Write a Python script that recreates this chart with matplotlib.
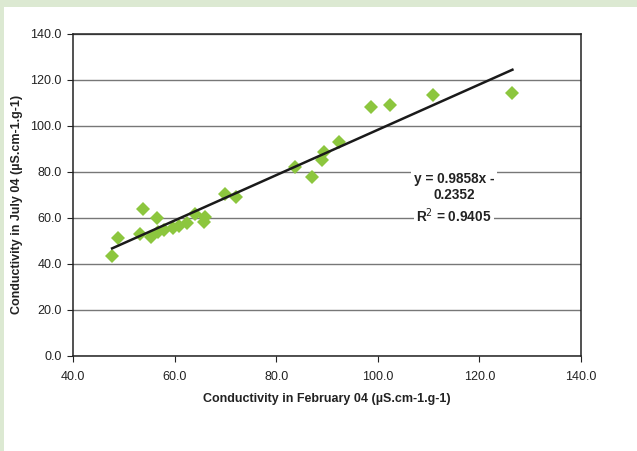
import matplotlib
matplotlib.use("Agg")
import matplotlib.pyplot as plt
from matplotlib.patches import Rectangle
import numpy as np

feb = [47.7, 48.9, 53.2, 53.7, 55.3, 56.5, 56.8, 57.9, 59.7, 60.8, 62.4, 64.1,
       65.8, 66.0, 69.9, 72.0, 83.7, 87.0, 89.1, 89.4, 92.4, 98.6, 102.4, 110.9, 126.5]
jul = [43.5, 51.2, 52.9, 63.9, 51.9, 59.9, 54.0, 54.9, 55.7, 56.5, 57.7, 61.9,
       58.4, 60.6, 70.6, 69.3, 82.3, 78.0, 85.2, 88.8, 93.2, 108.4, 109.1, 113.5, 114.2]
slope = 0.9858
intercept = -0.2352
r2 = 0.9405
xticks = [40, 60, 80, 100, 120, 140]
yticks = [0, 20, 40, 60, 80, 100, 120, 140]

plt.rcParams['font.family'] = ['Liberation Sans', 'DejaVu Sans']

fig = plt.figure(figsize=(6.37, 4.51), dpi=100)
fig.patch.set_facecolor('#dce9d2')
fig.patches.append(Rectangle((4/637, 0), 1, 1 - 7/451, transform=fig.transFigure,
                             facecolor='white', edgecolor='none', zorder=-5))

ax = fig.add_axes([73/637, 1 - 356/451, (581 - 73)/637, (356 - 34)/451])
ax.set_zorder(2)
ax.set_xlim(40, 140)
ax.set_ylim(0, 140)
ax.set_xticks(xticks)
ax.set_yticks(yticks)
ax.set_xticklabels([f"{v:.1f}" for v in xticks])
ax.set_yticklabels([f"{v:.1f}" for v in yticks])
ax.tick_params(axis='both', labelsize=9, colors='#222222', length=4, width=0.8, direction='out')
ax.tick_params(axis='x', pad=7)
ax.tick_params(axis='y', pad=4)
ax.grid(axis='y', color='#777777', linewidth=1.0)
ax.set_axisbelow(True)
for s in ax.spines.values():
    s.set_color('#222222')
    s.set_linewidth(1.1)

ax.plot(feb, jul, linestyle='none', marker='D', markersize=7.5, color='#8cc63e',
        markeredgewidth=0, zorder=3)

xs = np.array([min(feb), max(feb)])
ax.plot(xs, slope * xs + intercept, color='#1a1a1a', linewidth=1.8, zorder=4)

bbox = dict(facecolor='white', edgecolor='none', pad=2)
ax.text(115.0, 73.5, f"y = {slope:.4f}x -\n{-intercept:.4f}", ha='center', va='center',
        fontsize=9.8, fontweight='bold', color='#222222', bbox=bbox, linespacing=1.25, zorder=5)
ax.text(115.0, 61.0, f"R$^2$ = {r2:.4f}", ha='center', va='center',
        fontsize=9.8, fontweight='bold', color='#222222', bbox=bbox, zorder=5)

ax.set_xlabel("Conductivity in February 04 (µS.cm-1.g-1)", fontsize=9, fontweight='bold',
              color='#222222', labelpad=7)
ax.set_ylabel("Conductivity in July 04 (µS.cm-1.g-1)", fontsize=9, fontweight='bold',
              color='#222222')
ax.yaxis.set_label_coords(-0.098, 0.47)

fig.savefig("out.png", dpi=100)
